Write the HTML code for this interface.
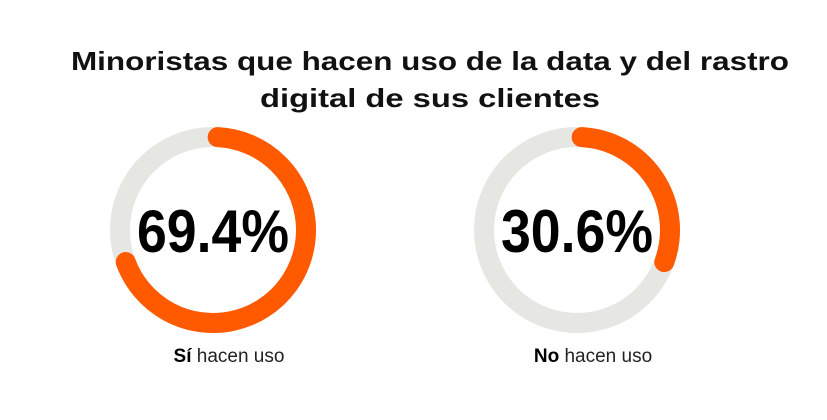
<!DOCTYPE html>
<html><head><meta charset="utf-8"><style>
html,body{margin:0;padding:0;background:#fff;}
svg{display:block;font-family:"Liberation Sans",sans-serif;}
</style></head><body>
<svg id="chart" width="827" height="420" viewBox="0 0 827 420">
<text x="430" y="70" text-anchor="middle" font-size="26" font-weight="bold" fill="#111" textLength="718" lengthAdjust="spacingAndGlyphs">Minoristas que hacen uso de la data y del rastro</text>
<text x="430" y="107" text-anchor="middle" font-size="26" font-weight="bold" fill="#111" textLength="340" lengthAdjust="spacingAndGlyphs">digital de sus clientes</text>
<g id="donuts"></g>
</svg>
<script>
const categories = ["Sí", "No"];
const values = [69.4, 30.6];
const labelRest = " hacen uso";
const centersX = [213, 577];
const cy = 230, r = 93, sw = 20;
const ns = "http://www.w3.org/2000/svg";
const g = document.getElementById("donuts");
function pt(cx, pct) {
  const a = (pct / 100) * 2 * Math.PI - Math.PI / 2;
  return [cx + r * Math.cos(a), cy + r * Math.sin(a)];
}
categories.forEach((c, i) => {
  const cx = centersX[i];
  const bg = document.createElementNS(ns, "circle");
  
  
  bg.setAttribute("cx", cx); bg.setAttribute("cy", cy); bg.setAttribute("r", r);
  bg.setAttribute("fill", "none"); bg.setAttribute("stroke", "#e6e6e2"); bg.setAttribute("stroke-width", sw);
  g.appendChild(bg);
  const v = values[i];
  const [x0, y0] = pt(cx, 0.8);
  const [x1, y1] = pt(cx, v);
  const arc = document.createElementNS(ns, "path");
  
  
  arc.setAttribute("d", `M${x0},${y0} A${r},${r} 0 ${v > 50 ? 1 : 0} 1 ${x1},${y1}`);
  arc.setAttribute("fill", "none"); arc.setAttribute("stroke", "#ff5a00");
  arc.setAttribute("stroke-width", sw); arc.setAttribute("stroke-linecap", "round");
  g.appendChild(arc);
  const t = document.createElementNS(ns, "text");
  
  
  t.setAttribute("x", cx); t.setAttribute("y", 252);
  t.setAttribute("text-anchor", "middle"); t.setAttribute("font-size", "60");
  t.setAttribute("font-weight", "bold"); t.setAttribute("fill", "#000");
  t.setAttribute("textLength", "152"); t.setAttribute("lengthAdjust", "spacingAndGlyphs");
  t.textContent = v.toFixed(1) + "%";
  g.appendChild(t);
  const l = document.createElementNS(ns, "text");
  
  
  l.setAttribute("x", cx + 16); l.setAttribute("y", 362);
  l.setAttribute("text-anchor", "middle"); l.setAttribute("font-size", "19"); l.setAttribute("fill", "#222");
  const b = document.createElementNS(ns, "tspan");
  b.setAttribute("font-weight", "bold"); b.setAttribute("fill", "#000");
  b.textContent = c;
  l.appendChild(b);
  l.appendChild(document.createTextNode(labelRest));
  g.appendChild(l);
});
</script>
</body></html>
